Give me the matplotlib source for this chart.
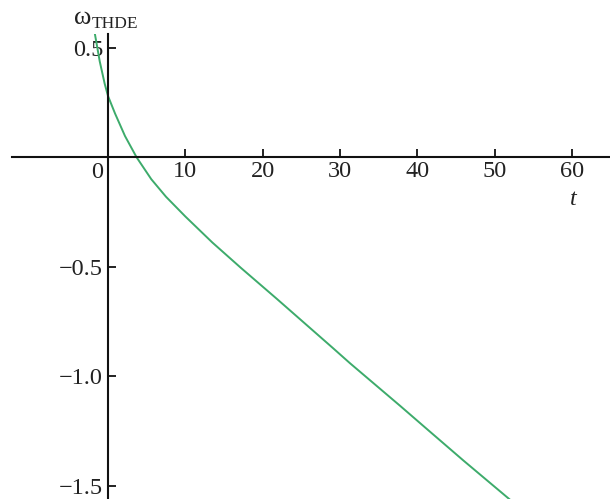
import numpy as np
import matplotlib.pyplot as plt

# equation-of-state parameter of THDE versus cosmic time
t = [-1.72, -1.07, -0.43, 0.0, 0.91, 2.2, 3.7, 5.6, 7.5, 10.0, 13.5,
     17.2, 21.8, 29.1, 31.3, 37.8, 41.4, 46.0, 51.9]
w = [0.568, 0.438, 0.336, 0.28, 0.2, 0.097, 0.0, -0.1, -0.18, -0.27, -0.389,
     -0.505, -0.645, -0.871, -0.94, -1.135, -1.245, -1.385, -1.56]

xticks = [10, 20, 30, 40, 50, 60]
yticks = [0.5, -0.5, -1.0, -1.5]
ylabels = ["0.5", "\u22120.5", "\u22121.0", "\u22121.5"]

plt.rcParams['font.family'] = ['Liberation Serif', 'DejaVu Serif']

fig = plt.figure(figsize=(6.10, 4.99), dpi=100)
ax = fig.add_axes([12/610, 0, 598/610, 465/499])

ax.plot(t, w, color='#3dab6b', lw=1.4, solid_joinstyle='round')

ax.set_xlim(-12.42, 64.94)
ax.set_ylim(-1.56, 0.563)

# axes through the origin
for side in ['top', 'right']:
    ax.spines[side].set_visible(False)
ax.spines['left'].set_position(('data', 0))
ax.spines['bottom'].set_position(('data', 0))
for side in ['left', 'bottom']:
    ax.spines[side].set_linewidth(1.5)
    ax.spines[side].set_color('#111111')

ax.set_xticks(xticks)
ax.set_xticklabels([str(x) for x in xticks])
ax.set_yticks(yticks)
ax.set_yticklabels(ylabels)
ax.tick_params(direction='in', length=5.5, width=1.3, labelsize=17.5,
               color='#111111', labelcolor='#222222')
ax.tick_params(axis='x', pad=2.5)
ax.tick_params(axis='y', pad=3.5)

# origin label sits left of the vertical axis
ax.annotate("0", (0, 0), xytext=(-8, -3.5), textcoords='offset points',
            ha='center', va='top', fontsize=17.5, color='#222222')

ax.annotate("t", (60, 0), xytext=(1, -23), textcoords='offset points',
            ha='center', va='top', fontsize=17.5, style='italic', color='#222222')

# y-axis label: omega with a THDE subscript
fig.text(74/610, 1 - 24/499, "\u03c9", fontsize=19, ha='left', va='baseline',
         color='#222222')
fig.text(92/610, 1 - 28.5/499, "THDE", fontsize=12.5, ha='left', va='baseline',
         color='#222222')

fig.savefig('out.png', dpi=100)
